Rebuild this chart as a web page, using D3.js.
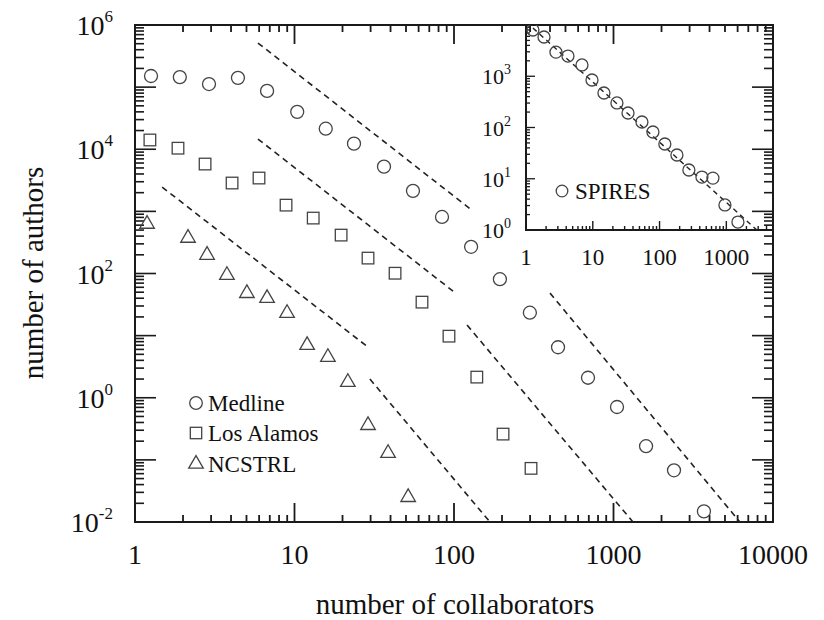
<!DOCTYPE html>
<html>
<head>
<meta charset="utf-8">
<script src="https://cdn.jsdelivr.net/npm/d3@7"></script>
<style>
  html, body { margin: 0; padding: 0; background: #fff; }
  svg { display: block; }
  text { font-family: "Liberation Serif", "Times New Roman", serif; fill: #111; }
</style>
</head>
<body>
<svg id="chart" width="824" height="620" font-family="Liberation Serif, serif"></svg>
<script>
// ---- data: collaborator-count distributions (log-binned) ----
const medlineX = [1.26, 1.91, 2.91, 4.42, 6.73, 10.4, 15.7, 23.6, 36.4, 55.3, 84.1, 128, 194, 299, 449, 692, 1052, 1600, 2395, 3690];
const medlineY = [151000, 145000, 112000, 141000, 87000, 40000, 21400, 12300, 5250, 2140, 813, 269, 81, 23.4, 6.5, 2.1, 0.71, 0.166, 0.068, 0.0148];

const losAlamosX = [1.24, 1.86, 2.75, 4.06, 5.99, 8.85, 13.1, 19.6, 28.9, 42.7, 63.0, 93.0, 139, 203, 304];
const losAlamosY = [14100, 10400, 5780, 2860, 3440, 1260, 780, 415, 177, 101, 34.6, 9.8, 2.15, 0.26, 0.073];

const ncstrlX = [1.19, 2.15, 2.83, 3.77, 5.03, 6.73, 8.98, 12.0, 16.2, 21.6, 28.9, 38.6, 51.6];
const ncstrlY = [625, 372, 198, 94, 48, 40, 23, 7.0, 4.5, 1.78, 0.36, 0.128, 0.025];

const spiresX = [1.27, 1.86, 2.81, 4.25, 6.89, 9.73, 14.7, 23.0, 33.7, 54.5, 79.6, 120, 182, 275, 431, 630, 953, 1492];
const spiresY = [7990, 5830, 2950, 2480, 1660, 845, 471, 301, 192, 128, 81.7, 47.6, 29.1, 14.8, 10.8, 10.3, 3.08, 1.43];

// power-law guide lines: [x1, y1, x2, y2]
const guideLines = [
  [5.9, 513000, 131.6, 1010],   // Medline, exponent -2
  [5.9, 14600, 98.6, 52.1],     // Los Alamos, exponent -2
  [1.48, 2460, 28.9, 6.53],     // NCSTRL, exponent -2
  [29.7, 2.0, 168, 0.01],       // NCSTRL tail, exponent -3
  [120.7, 14.8, 1325, 0.01],    // Los Alamos tail, exponent -3
  [400, 48.3, 6200, 0.01]       // Medline tail, exponent -3
];
const spiresLine = [1.27, 8730, 2870, 1];

const xTickLabels = ["1", "10", "100", "1000", "10000"];
const yTickExponents = ["6", "4", "2", "0", "-2"];
const insetXTickLabels = ["1", "10", "100", "1000"];
const insetYTickExponents = ["3", "2", "1", "0"];

const legendNames = ["Medline", "Los Alamos", "NCSTRL"];

// ---- layout ----
const svg = d3.select("#chart");
const x = d3.scaleLog().domain([1, 1e4]).range([135, 773]);
const y = d3.scaleLog().domain([1e-2, 1e6]).range([522, 25]);
const xi = d3.scaleLog().domain([1, 5000]).range([526, 773]);
const yi = d3.scaleLog().domain([1, 1e4]).range([230, 25]);

const isMajor = v => Math.abs(Math.log10(v) - Math.round(Math.log10(v))) < 1e-9;

// inward-pointing log ticks along a frame edge, drawn as thin bars
function hTicks(scale, y0, dir, majorLen, minorLen, width) {
  svg.append("g").selectAll("rect").data(scale.ticks()).join("rect")
    .attr("x", d => scale(d) - width / 2)
    .attr("y", d => dir < 0 ? y0 - (isMajor(d) ? majorLen : minorLen) : y0)
    .attr("width", width)
    .attr("height", d => isMajor(d) ? majorLen : minorLen)
    .attr("fill", "#1a1a1a");
}
function vTicks(scale, x0, dir, majorLen, minorLen, width) {
  svg.append("g").selectAll("rect").data(scale.ticks()).join("rect")
    .attr("y", d => scale(d) - width / 2)
    .attr("x", d => dir < 0 ? x0 - (isMajor(d) ? majorLen : minorLen) : x0)
    .attr("height", width)
    .attr("width", d => isMajor(d) ? majorLen : minorLen)
    .attr("fill", "#1a1a1a");
}

hTicks(x, 522, -1, 19, 7, 1.8);
hTicks(x, 25, 1, 19, 7, 1.8);
vTicks(y, 135, 1, 21, 9, 1.6);
vTicks(y, 773, -1, 21, 9, 1.6);

svg.append("rect")
  .attr("x", x.range()[0]).attr("y", y.range()[1])
  .attr("width", x.range()[1] - x.range()[0])
  .attr("height", y.range()[0] - y.range()[1])
  .attr("fill", "none").attr("stroke", "#1a1a1a").attr("stroke-width", 2);

// main tick labels
const xMajors = x.ticks().filter(isMajor);
svg.append("g").selectAll("text").data(xMajors).join("text")
  .attr("x", d => x(d)).attr("y", 564)
  .attr("text-anchor", "middle").attr("font-size", 28)
  .text((d, i) => xTickLabels[i]);

const yMajors = [1e6, 1e4, 1e2, 1, 1e-2];
const yl = svg.append("g").selectAll("text").data(yMajors).join("text")
  .attr("x", 113).attr("y", d => y(d) + 10)
  .attr("text-anchor", "end").attr("font-size", 28);
yl.append("tspan").text("10");
yl.append("tspan").attr("font-size", 17).attr("dy", -13).text((d, i) => yTickExponents[i]);

// axis titles
svg.append("text").attr("x", 455).attr("y", 614).attr("text-anchor", "middle")
  .attr("font-size", 29).text("number of collaborators");
svg.append("text").attr("transform", "translate(43,273) rotate(-90)")
  .attr("text-anchor", "middle").attr("font-size", 29).text("number of authors");

// clip for guide lines
svg.append("clipPath").attr("id", "plotClip").append("rect")
  .attr("x", 135).attr("y", 25).attr("width", 638).attr("height", 497);

svg.append("g").attr("clip-path", "url(#plotClip)")
  .selectAll("line").data(guideLines).join("line")
  .attr("x1", d => x(d[0])).attr("y1", d => y(d[1]))
  .attr("x2", d => x(d[2])).attr("y2", d => y(d[3]))
  .attr("stroke", "#222").attr("stroke-width", 1.6)
  .attr("stroke-dasharray", "6,4.5");

const markStroke = "#444";
const zip = (xs, ys) => xs.map((v, i) => [v, ys[i]]);

// Medline circles
svg.append("g").selectAll("circle").data(zip(medlineX, medlineY)).join("circle")
  .attr("cx", d => x(d[0])).attr("cy", d => y(d[1])).attr("r", 6.5)
  .attr("fill", "none").attr("stroke", markStroke).attr("stroke-width", 1.3);

// Los Alamos squares
svg.append("g").selectAll("rect").data(zip(losAlamosX, losAlamosY)).join("rect")
  .attr("x", d => x(d[0]) - 5.8).attr("y", d => y(d[1]) - 5.8)
  .attr("width", 11.6).attr("height", 11.6)
  .attr("fill", "none").attr("stroke", markStroke).attr("stroke-width", 1.3);

// NCSTRL triangles
const tri = d3.symbol(d3.symbolTriangle, 92);
svg.append("g").selectAll("path").data(zip(ncstrlX, ncstrlY)).join("path")
  .attr("d", tri).attr("transform", d => `translate(${x(d[0])},${y(d[1])})`)
  .attr("fill", "none").attr("stroke", markStroke).attr("stroke-width", 1.3);

// legend
const legY = [403, 433, 464];
const leg = svg.append("g");
leg.append("circle").attr("cx", 196).attr("cy", legY[0]).attr("r", 6.3)
  .attr("fill", "none").attr("stroke", markStroke).attr("stroke-width", 1.3);
leg.append("rect").attr("x", 190.3).attr("y", legY[1] - 5.7).attr("width", 11.4).attr("height", 11.4)
  .attr("fill", "none").attr("stroke", markStroke).attr("stroke-width", 1.3);
leg.append("path").attr("d", tri).attr("transform", `translate(196,${legY[2]})`)
  .attr("fill", "none").attr("stroke", markStroke).attr("stroke-width", 1.3);
leg.selectAll("text").data(legendNames).join("text")
  .attr("x", 208).attr("y", (d, i) => legY[i] + 8).attr("font-size", 23).text(d => d);

// ---- inset: SPIRES ----
hTicks(xi, 230, -1, 9, 4, 1.4);
vTicks(yi, 526, 1, 9, 4, 1.3);

svg.append("path")
  .attr("d", `M${xi.range()[0]},${yi.range()[1]}V${yi.range()[0]}H${xi.range()[1]}`)
  .attr("fill", "none").attr("stroke", "#1a1a1a").attr("stroke-width", 2);

const insetXMajors = xi.ticks().filter(isMajor);
svg.append("g").selectAll("text").data(insetXMajors).join("text")
  .attr("x", d => xi(d)).attr("y", 265).attr("text-anchor", "middle")
  .attr("font-size", 23).text((d, i) => insetXTickLabels[i]);

const iyl = svg.append("g").selectAll("text").data([1e3, 1e2, 10, 1]).join("text")
  .attr("x", 511).attr("y", d => yi(d) + 8).attr("text-anchor", "end").attr("font-size", 22);
iyl.append("tspan").text("10");
iyl.append("tspan").attr("font-size", 14).attr("dy", -10).text((d, i) => insetYTickExponents[i]);

svg.append("clipPath").attr("id", "insetClip").append("rect")
  .attr("x", 526).attr("y", 25).attr("width", 247).attr("height", 205);

svg.append("line").attr("clip-path", "url(#insetClip)")
  .attr("x1", xi(spiresLine[0])).attr("y1", yi(spiresLine[1]))
  .attr("x2", xi(spiresLine[2])).attr("y2", yi(spiresLine[3]))
  .attr("stroke", "#222").attr("stroke-width", 1.4).attr("stroke-dasharray", "5,4");

svg.append("g").attr("clip-path", "url(#insetClip)")
  .selectAll("circle").data(zip(spiresX, spiresY)).join("circle")
  .attr("cx", d => xi(d[0])).attr("cy", d => yi(d[1])).attr("r", 6)
  .attr("fill", "none").attr("stroke", markStroke).attr("stroke-width", 1.3);

svg.append("circle").attr("cx", 562).attr("cy", 191).attr("r", 5.8)
  .attr("fill", "none").attr("stroke", markStroke).attr("stroke-width", 1.3);
svg.append("text").attr("x", 575).attr("y", 199).attr("font-size", 23).text("SPIRES");
</script>
</body>
</html>
